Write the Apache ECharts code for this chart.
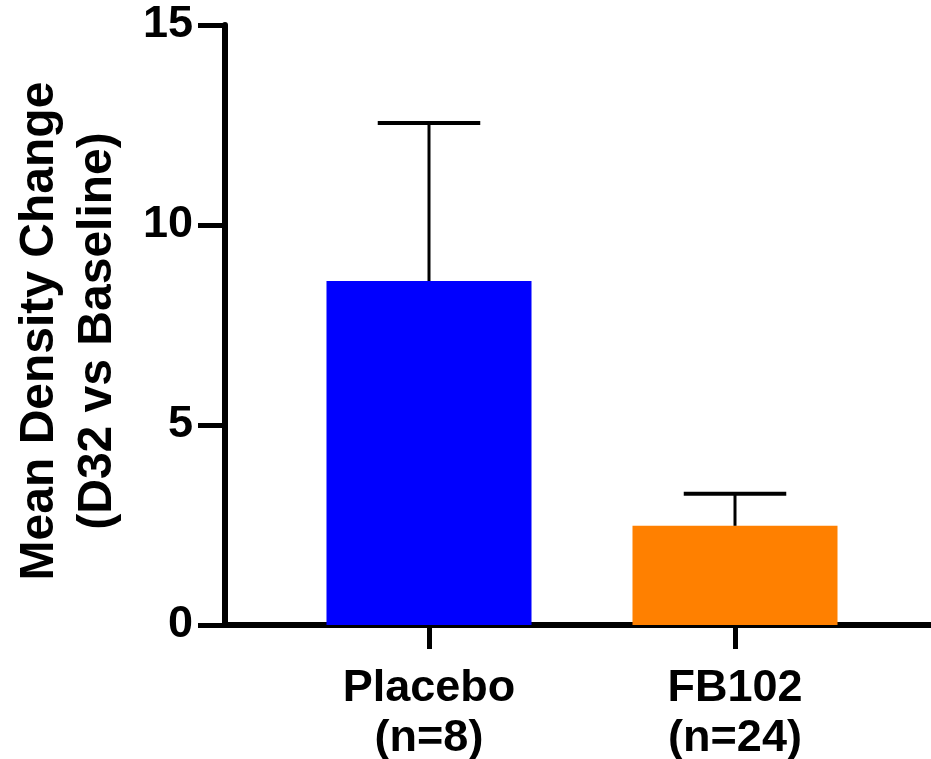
<!DOCTYPE html>
<html>
<head>
<meta charset="utf-8">
<script src="https://cdn.jsdelivr.net/npm/echarts@6/dist/echarts.min.js"></script>
<style>
html,body{margin:0;padding:0;background:#fff;}
#chart{width:931px;height:759px;}
</style>
</head>
<body>
<div id="chart"></div>
<script>
const categories = ['Placebo\n(n=8)', 'FB102\n(n=24)'];
const means = [8.6, 2.48];
const upperErr = [12.55, 3.28];
const barColors = ['#0000FF', '#FF8000'];
const yMin = 0, yMax = 15, yInterval = 5;
const yTitle = 'Mean Density Change\n(D32 vs Baseline)';

const FONT = '"Liberation Sans", Arial, Helvetica, sans-serif';
const chart = echarts.init(document.getElementById('chart'));

const errData = means.map((m, i) => [i, m, upperErr[i]]);

chart.setOption({
  backgroundColor: '#ffffff',
  animation: false,
  grid: [
    { left: 276, width: 612, top: 25, height: 600, containLabel: false, outerBoundsMode: 'none' },
    { left: 225, right: 0, top: 25, height: 600, containLabel: false, outerBoundsMode: 'none' }
  ],
  xAxis: [
    {
      type: 'category', gridIndex: 0, data: categories,
      axisLine: { show: false },
      axisTick: { show: true, alignWithLabel: true, length: 24, lineStyle: { color: '#000', width: 5 } },
      axisLabel: { margin: 39, color: '#000', fontSize: 45, fontWeight: 'bold', fontFamily: FONT, lineHeight: 50 }
    },
    {
      type: 'value', gridIndex: 1, min: 0, max: 1,
      axisLine: { show: true, lineStyle: { color: '#000', width: 6 } },
      axisTick: { show: false }, axisLabel: { show: false }, splitLine: { show: false }
    }
  ],
  yAxis: [
    {
      type: 'value', gridIndex: 0, min: yMin, max: yMax, interval: yInterval,
      show: false
    },
    {
      type: 'value', gridIndex: 1, min: yMin, max: yMax, interval: yInterval,
      name: yTitle, nameLocation: 'middle', nameGap: 98, nameRotate: 90,
      nameTextStyle: { color: '#000', fontSize: 48, fontWeight: 'bold', fontFamily: FONT, lineHeight: 58, padding: [0, 12, 0, 0] },
      axisLine: { show: true, lineStyle: { color: '#000', width: 6 } },
      axisTick: { show: true, length: 27, lineStyle: { color: '#000', width: 5 } },
      axisLabel: { margin: 32, color: '#000', fontSize: 45, fontWeight: 'bold', fontFamily: FONT },
      splitLine: { show: false }
    }
  ],
  series: [
    {
      type: 'bar', xAxisIndex: 0, yAxisIndex: 0, barWidth: '67%',
      data: means.map((v, i) => ({ value: v, itemStyle: { color: barColors[i] } }))
    },
    {
      type: 'custom', xAxisIndex: 0, yAxisIndex: 0, z: 3,
      data: errData,
      renderItem: function (params, api) {
        const x = api.value(0);
        const pMean = api.coord([x, api.value(1)]);
        const pTop = api.coord([x, api.value(2)]);
        const band = api.size([1, 0])[0];
        const half = band * 0.335 / 2;
        return {
          type: 'group',
          children: [
            { type: 'line', shape: { x1: pMean[0], y1: pMean[1], x2: pTop[0], y2: pTop[1] },
              style: { stroke: '#000', lineWidth: 3 } },
            { type: 'line', shape: { x1: pTop[0] - half, y1: pTop[1], x2: pTop[0] + half, y2: pTop[1] },
              style: { stroke: '#000', lineWidth: 4 } }
          ]
        };
      }
    }
  ]
});
</script>
</body>
</html>
